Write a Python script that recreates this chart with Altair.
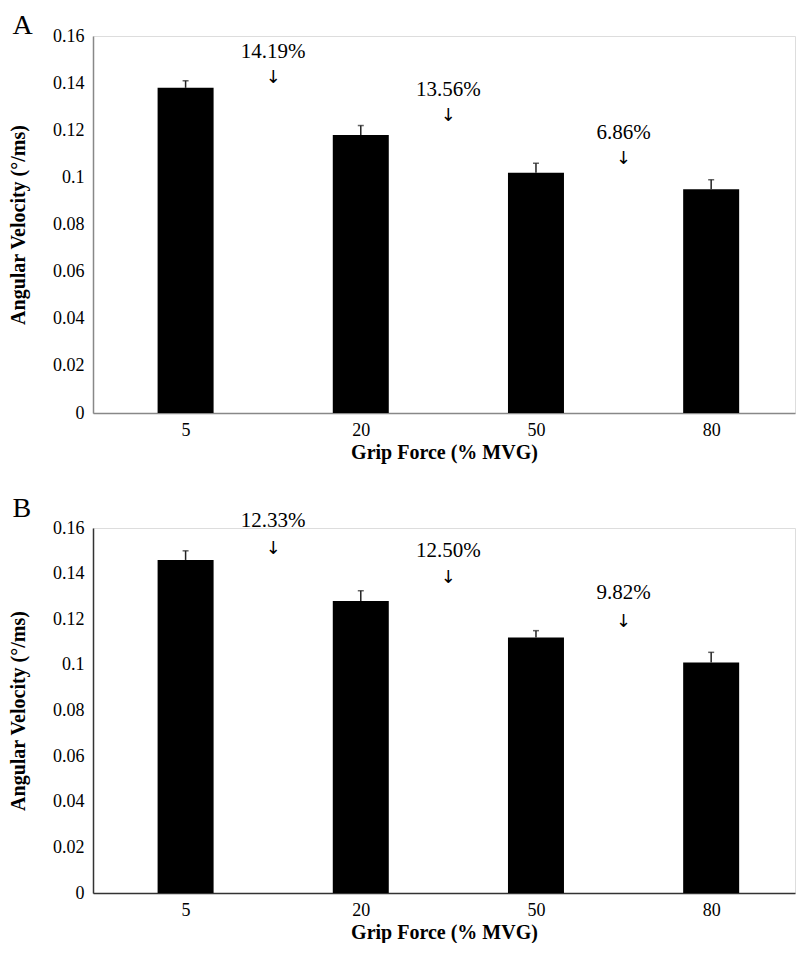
import json
import altair as alt
import pandas as pd

# ---- data ----
categories = ["5", "20", "50", "80"]

a_means = [0.138, 0.118, 0.102, 0.095]
a_errors = [0.003, 0.004, 0.004, 0.004]
a_changes = ["14.19%", "13.56%", "6.86%"]
a_change_y = [0.153, 0.137, 0.119]
a_arrow_y = [0.142, 0.126, 0.108]

b_means = [0.146, 0.128, 0.112, 0.101]
b_errors = [0.004, 0.0045, 0.003, 0.0045]
b_changes = ["12.33%", "12.50%", "9.82%"]
b_change_y = [0.163, 0.150, 0.1315]
b_arrow_y = [0.151, 0.138, 0.119]

y_ticks = [0, 0.02, 0.04, 0.06, 0.08, 0.1, 0.12, 0.14, 0.16]

FONT = "Liberation Serif, Times New Roman, serif"


def panel(letter, means, errors, changes, change_y, arrow_y, width, height,
          axis_color):
    bars_df = pd.DataFrame({
        "pos": list(range(len(categories))),
        "grip": categories,
        "mean": means,
        "top": [m + e for m, e in zip(means, errors)],
    })
    ann_df = pd.DataFrame({
        "pos": [i + 0.5 for i in range(len(changes))],
        "label": changes,
        "ly": change_y,
        "ay": arrow_y,
        "arrow": ["\u2193"] * len(changes),
    })

    x_scale = alt.Scale(domain=[-0.5, 3.45], nice=False, zero=False)
    y_scale = alt.Scale(domain=[0, 0.16], nice=False)

    x_axis = alt.Axis(
        values=list(range(len(categories))),
        labelExpr=json.dumps(categories) + "[datum.value]",
        title="Grip Force (% MVG)",
        grid=False, ticks=False, tickSize=0,
        domainColor=axis_color, domainWidth=1.5,
        labelFont=FONT, labelFontSize=18, labelColor="black", labelPadding=8,
        titleFont=FONT, titleFontSize=20, titleFontWeight="bold",
        titleColor="black", titlePadding=3,
    )
    y_axis = alt.Axis(
        values=y_ticks, format="~g",
        title="Angular Velocity (\u00b0/ms)",
        grid=False, ticks=False, tickSize=0,
        domainColor=axis_color, domainWidth=1.5,
        labelFont=FONT, labelFontSize=18, labelColor="black", labelPadding=9,
        titleFont=FONT, titleFontSize=20, titleFontWeight="bold",
        titleColor="black", titlePadding=24,
    )

    base = alt.Chart(bars_df)
    bars = base.mark_bar(color="black", size=56).encode(
        x=alt.X("pos:Q", scale=x_scale, axis=x_axis),
        y=alt.Y("mean:Q", scale=y_scale, axis=y_axis),
    )
    err = base.mark_rule(color="#222222", strokeWidth=1.5).encode(
        x="pos:Q", y="mean:Q", y2="top:Q"
    )
    cap = base.mark_tick(orient="horizontal", size=6, thickness=1.5,
                         color="#222222").encode(x="pos:Q", y="top:Q")

    ann = alt.Chart(ann_df)
    labels = ann.mark_text(font=FONT, fontSize=21, baseline="middle",
                           color="black").encode(
        x="pos:Q", y="ly:Q", text="label:N"
    )
    arrows = ann.mark_text(font="DejaVu Sans", fontSize=18, baseline="middle",
                           color="black").encode(
        x="pos:Q", y="ay:Q", text="arrow:N"
    )

    return alt.layer(bars, err, cap, labels, arrows).properties(
        width=width, height=height,
        title=alt.TitleParams(letter, anchor="start", font=FONT, fontSize=28,
                              fontWeight="normal", color="black", offset=-13,
                              dx=4),
    )


panel_a = panel("A", a_means, a_errors, a_changes, a_change_y, a_arrow_y,
                702, 377, "#888888")
panel_b = panel("B", b_means, b_errors, b_changes, b_change_y, b_arrow_y,
                702, 365, "#333333")

chart = alt.vconcat(panel_a, panel_b, spacing=31).properties(
    padding={"left": 8, "top": 11, "right": 0, "bottom": 0}
).configure_view(stroke=None).configure(background="white")

chart.save("out.html", embed_options={"renderer": "svg", "actions": False})
